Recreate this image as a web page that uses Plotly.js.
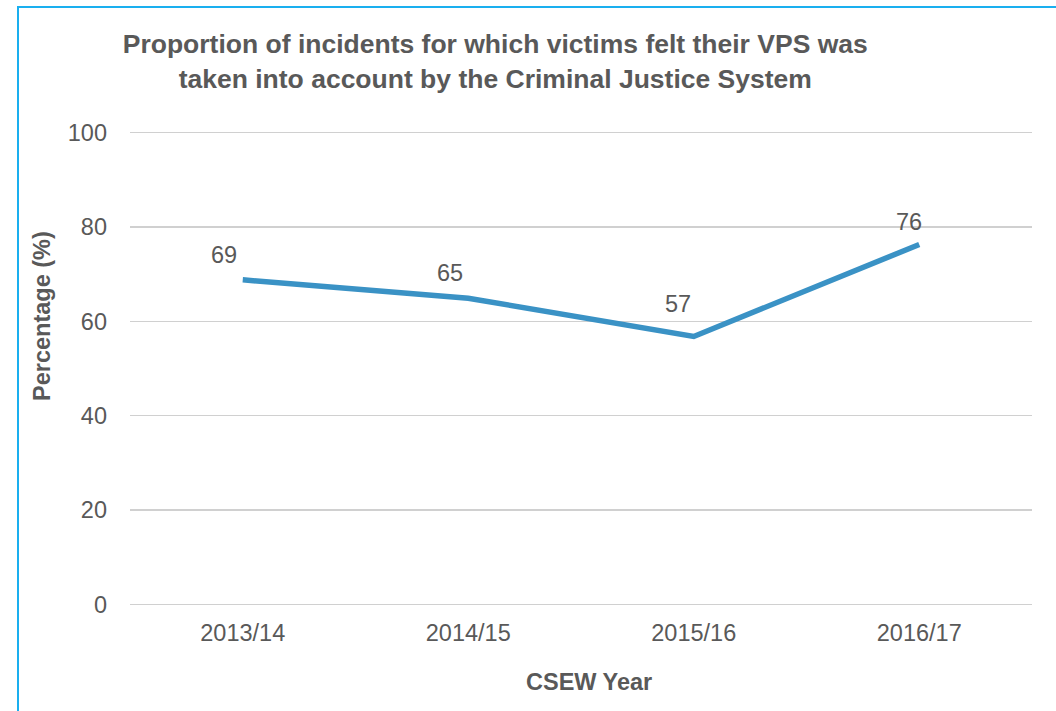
<!DOCTYPE html>
<html>
<head>
<meta charset="utf-8">
<script src="https://cdn.plot.ly/plotly-3.0.1.min.js"></script>
<style>
  html, body { margin: 0; padding: 0; background: #ffffff; overflow: hidden; }
  #frame { position: absolute; left: 17px; top: 6px; width: 1200px; height: 900px;
           border-top: 2px solid #1AAFEF; border-left: 2px solid #1AAFEF; z-index: 0; }
  #chart { position: absolute; left: 0; top: 0; width: 1056px; height: 711px; z-index: 1; }
</style>
</head>
<body>
<div id="frame"></div>
<div id="chart"></div>
<script>
const categories = ["2013/14", "2014/15", "2015/16", "2016/17"];
const percentages = [68.8, 64.9, 56.8, 76.3];
const valueLabels = ["69", "65", "57", "76"];
const labelShiftX = [-19, -18, -16, -10];
const labelShiftY = [25, 25, 32, 22];
const yTickValues = [0, 20, 40, 60, 80, 100];

const chartTitle = "Proportion of incidents for which victims felt their VPS was<br>taken into account by the Criminal Justice System";
const xTitle = "CSEW Year";
const yTitle = "Percentage (%)";

const textColor = "#595959";
const fontFamily = "Liberation Sans, Arial, sans-serif";
const tickSize = 23.5;

// plot area in pixels (from the reference): value 0 at y=604, value 100 at y=133
const W = 1056, H = 711;
const plotLeft = 130, plotRight = 1032, yZeroPx = 604, yHundredPx = 133;
const pad = 1; // axis units of padding so end gridlines are drawn
const pxPerUnit = (yZeroPx - yHundredPx) / 100;
const mTop = Math.round(yHundredPx - pad * pxPerUnit);
const mBottom = Math.round(H - yZeroPx - pad * pxPerUnit);
const plotH = H - mTop - mBottom;

const trace = {
  type: "scatter",
  mode: "lines",
  x: categories,
  y: percentages,
  line: { color: "#3A92C5", width: 5.5 },
  hoverinfo: "x+y"
};

const annotations = categories.map((c, i) => ({
  x: c, y: percentages[i], xref: "x", yref: "y",
  text: valueLabels[i], showarrow: false,
  xanchor: "center", yanchor: "middle",
  xshift: labelShiftX[i], yshift: labelShiftY[i],
  font: { family: fontFamily, size: tickSize, color: textColor }
}));

// axis titles as annotations placed where the reference puts them
annotations.push({
  text: yTitle, textangle: -90, showarrow: false,
  xref: "paper", yref: "paper",
  x: (42 - plotLeft) / (plotRight - plotLeft), y: (H - mBottom - 316) / plotH,
  xanchor: "center", yanchor: "middle",
  font: { family: fontFamily, size: tickSize, color: textColor, weight: "bold" }
});
annotations.push({
  text: xTitle, showarrow: false,
  xref: "paper", yref: "paper",
  x: (589 - plotLeft) / (plotRight - plotLeft), y: (H - mBottom - 682) / plotH,
  xanchor: "center", yanchor: "middle",
  font: { family: fontFamily, size: tickSize, color: textColor, weight: "bold" }
});

const layout = {
  width: W, height: H,
  margin: { l: plotLeft, r: W - plotRight, t: mTop, b: mBottom },
  paper_bgcolor: "rgba(0,0,0,0)",
  plot_bgcolor: "rgba(0,0,0,0)",
  showlegend: false,
  title: {
    text: chartTitle,
    x: 0.469, xref: "container", xanchor: "center",
    y: 0.925, yref: "container", yanchor: "middle",
    font: { family: fontFamily, size: 26.5, color: textColor, weight: "bold" }
  },
  xaxis: {
    type: "category",
    range: [-0.5, 3.5],
    showgrid: false, showline: false, zeroline: false,
    ticks: "outside", ticklen: 3, tickcolor: "rgba(0,0,0,0)",
    tickfont: { family: fontFamily, size: tickSize, color: textColor }
  },
  yaxis: {
    range: [0 - pad, 100 + pad], tickvals: yTickValues,
    showgrid: true, gridcolor: "#D0D0D0", gridwidth: 1.5,
    zeroline: false, showline: false,
    ticks: "", ticklabelstandoff: 22,
    tickfont: { family: fontFamily, size: tickSize, color: textColor }
  },
  annotations: annotations
};

Plotly.newPlot("chart", [trace], layout, { displayModeBar: false, staticPlot: true });
</script>
</body>
</html>
